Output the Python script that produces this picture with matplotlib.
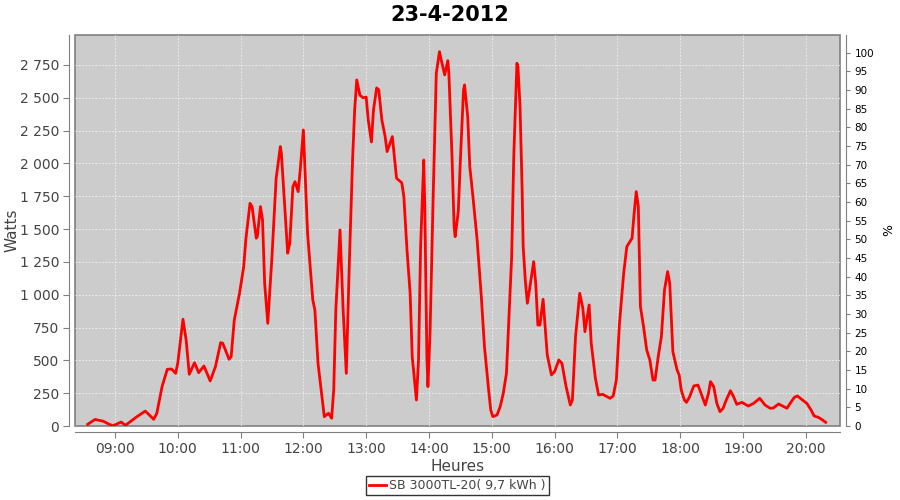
import matplotlib
matplotlib.use('Agg')
import matplotlib.pyplot as plt
import matplotlib.dates as mdates
import matplotlib.ticker as mticker
import pandas as pd

# readings of the inverter (time, Watts)
times = ['08:34', '08:41', '08:49', '08:54', '08:58', '09:06', '09:10', '09:21', '09:29', '09:37',
         '09:40', '09:45', '09:50', '09:54', '09:58', '10:00', '10:05', '10:08', '10:11', '10:16',
         '10:20', '10:25', '10:28', '10:31', '10:36', '10:41', '10:43', '10:49', '10:51', '10:54',
         '10:59', '11:03', '11:05', '11:09', '11:11', '11:15', '11:16', '11:19', '11:21', '11:23',
         '11:26', '11:30', '11:34', '11:38', '11:39', '11:45', '11:47', '11:50', '11:52', '11:55',
         '11:57', '12:00', '12:04', '12:09', '12:11', '12:14', '12:20', '12:24', '12:27', '12:29',
         '12:31', '12:35', '12:38', '12:41', '12:44', '12:47', '12:49', '12:51', '12:54', '12:57',
         '13:00', '13:02', '13:05', '13:07', '13:10', '13:12', '13:15', '13:18', '13:20', '13:25',
         '13:29', '13:34', '13:36', '13:39', '13:42', '13:44', '13:48', '13:50', '13:52', '13:55',
         '13:56', '13:58', '13:59', '14:01', '14:04', '14:07', '14:10', '14:11', '14:15', '14:18',
         '14:19', '14:22', '14:24', '14:25', '14:28', '14:30', '14:33', '14:34', '14:37', '14:39',
         '14:42', '14:46', '14:49', '14:50', '14:53', '14:57', '14:59', '15:01', '15:05', '15:08',
         '15:11', '15:14', '15:16', '15:19', '15:21', '15:24', '15:25', '15:27', '15:29', '15:30',
         '15:32', '15:34', '15:36', '15:40', '15:42', '15:44', '15:46', '15:49', '15:53', '15:57',
         '16:00', '16:04', '16:07', '16:11', '16:15', '16:17', '16:20', '16:24', '16:27', '16:29',
         '16:33', '16:35', '16:39', '16:42', '16:46', '16:53', '16:56', '16:59', '17:02', '17:06',
         '17:09', '17:14', '17:16', '17:18', '17:20', '17:22', '17:25', '17:28', '17:31', '17:34',
         '17:36', '17:39', '17:42', '17:45', '17:48', '17:50', '17:53', '17:57', '17:59', '18:01',
         '18:04', '18:06', '18:09', '18:13', '18:17', '18:24', '18:27', '18:29', '18:32', '18:35',
         '18:38', '18:41', '18:44', '18:48', '18:51', '18:54', '18:59', '19:05', '19:10', '19:16',
         '19:21', '19:26', '19:29', '19:34', '19:39', '19:42', '19:45', '19:49', '19:52', '19:56',
         '20:01', '20:05', '20:08', '20:12', '20:16', '20:19']
watts = [13, 50, 36, 15, 2, 30, 5, 71, 114, 51,
         97, 300, 432, 434, 401, 478, 813, 655, 394, 482,
         406, 457, 401, 343, 452, 635, 630, 508, 528, 807,
         1011, 1214, 1417, 1696, 1671, 1430, 1442, 1671, 1569, 1087,
         782, 1290, 1887, 2128, 2077, 1316, 1392, 1823, 1861, 1785,
         1950, 2255, 1468, 960, 884, 478, 71, 97, 59, 274,
         884, 1493, 884, 401, 1265, 2026, 2407, 2636, 2520, 2500,
         2505, 2330, 2163, 2407, 2575, 2560, 2330, 2210, 2090, 2204,
         1887, 1853, 1747, 1341, 1011, 528, 198, 503, 1366, 2026,
         1671, 528, 300, 706, 1747, 2687, 2851, 2813, 2674, 2783,
         2687, 2052, 1518, 1442, 1633, 2026, 2560, 2598, 2356, 1975,
         1747, 1417, 1087, 985, 604, 274, 122, 71, 84, 147,
         249, 401, 756, 1290, 2052, 2763, 2737, 2432, 1798, 1366,
         1112, 935, 1036, 1252, 1087, 769, 769, 965, 541, 389,
         414, 503, 478, 300, 160, 198, 680, 1011, 897, 718,
         922, 630, 363, 236, 241, 211, 229, 350, 782, 1163,
         1366, 1430, 1620, 1785, 1671, 909, 756, 579, 503, 350,
         350, 528, 680, 1036, 1176, 1087, 566, 427, 389, 274,
         198, 180, 223, 305, 312, 160, 249, 338, 300, 172,
         109, 135, 198, 269, 223, 165, 180, 152, 172, 211,
         160, 135, 137, 168, 147, 135, 172, 218, 229, 203,
         172, 122, 76, 66, 46, 28]

day = '2012-04-23'
serie = 'SB 3000TL-20( 9,7 kWh )'
pmax = 2844.0  # watts for 100 %

x = pd.to_datetime([day + ' ' + t for t in times])

fig = plt.figure(figsize=(9, 5), dpi=100)
axes = fig.add_axes([75/900., 74/500., 765/900., 391/500.])
axes.set_facecolor('#cccccc')
axes.patch.set_edgecolor('#808080')
axes.patch.set_linewidth(1.2)

axes.plot(x, watts, color='#ff0000', linewidth=2, label=serie)

axes.set_xlim(pd.Timestamp(day + ' 08:21:50'), pd.Timestamp(day + ' 20:32:40'))
axes.set_ylim(0, 2978)
axes.yaxis.set_major_locator(mticker.MultipleLocator(250))
axes.yaxis.set_major_formatter(mticker.FuncFormatter(lambda v, p: '{:,.0f}'.format(v).replace(',', ' ')))
axes.xaxis.set_major_locator(mdates.HourLocator())
axes.xaxis.set_major_formatter(mdates.DateFormatter('%H:%M'))

axes.grid(True, color='#f2f2f2', linestyle=(0, (2, 2)), linewidth=0.6)
axes.set_axisbelow(True)

for s in ['top', 'right']:
    axes.spines[s].set_visible(False)
for s in ['left', 'bottom']:
    axes.spines[s].set_position(('outward', 4))
    axes.spines[s].set_color('#808080')
axes.tick_params(colors='#808080', labelcolor='#444444', labelsize=10, length=4)

axes.set_xlabel('Heures', fontsize=11, color='#444444', labelpad=2)
axes.set_ylabel('Watts', fontsize=11, color='#444444')
axes.yaxis.set_label_coords(-0.072, 0.5)

ax2 = axes.twinx()
ax2.set_ylim(0, 2978 * 100 / pmax)
ax2.yaxis.set_major_locator(mticker.MultipleLocator(5))
for s in ['top', 'left', 'bottom']:
    ax2.spines[s].set_visible(False)
ax2.spines['right'].set_position(('outward', 4))
ax2.spines['right'].set_color('#808080')
ax2.tick_params(colors='#808080', labelcolor='black', labelsize=7.5, length=3)
ax2.set_ylabel('%', fontsize=9, rotation=-90, labelpad=12)

fig.suptitle('23-4-2012', fontsize=15, fontweight='bold', y=0.99)

leg = axes.legend(loc='upper center', bbox_to_anchor=(0.5, -0.128), frameon=True, fancybox=False,
                  fontsize=9, handlelength=1.3, handletextpad=0.3, borderpad=0.25, borderaxespad=0)
leg.get_frame().set_edgecolor('black')
leg.get_frame().set_linewidth(1)
for t in leg.get_texts():
    t.set_color('#444444')

plt.savefig('out.png')
